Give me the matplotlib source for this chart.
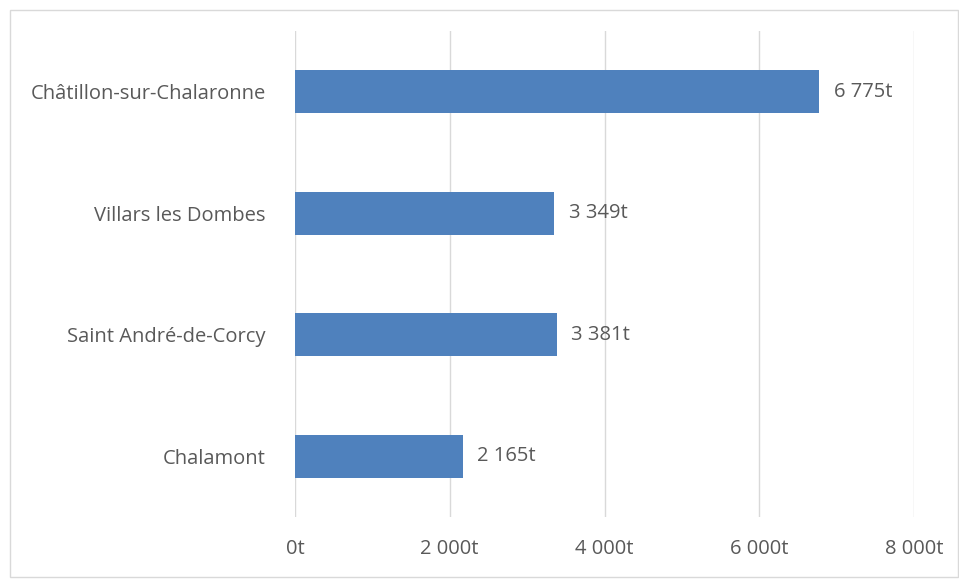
import matplotlib
matplotlib.use("Agg")
import matplotlib.pyplot as plt
from matplotlib.patches import Rectangle

categories = ["Chalamont", "Saint André-de-Corcy", "Villars les Dombes", "Châtillon-sur-Chalaronne"]
values = [2165, 3381, 3349, 6775]
xticks = [0, 2000, 4000, 6000, 8000]
xtick_labels = ["0t", "2 000t", "4 000t", "6 000t", "8 000t"]
value_labels = ["2 165t", "3 381t", "3 349t", "6 775t"]

plt.rcParams['font.family'] = ['Open Sans', 'DejaVu Sans']
txt = "#595959"
fs = 14.5

fig = plt.figure(figsize=(9.59, 5.79), dpi=100)
fig.patches.append(Rectangle((10/959, 1-577/579), 948/959, 567/579, transform=fig.transFigure,
                             fill=False, edgecolor="#d9d9d9", linewidth=1))
ax = fig.add_axes([295/959, 1-517/579, 619/959, 486/579])
ypos = list(range(len(categories)))
ax.barh(ypos, values, height=0.354, color="#4F81BD", zorder=3)
for y, v, lab in zip(ypos, values, value_labels):
    ax.text(v + 190, y, lab, va="center", ha="left", fontsize=fs, color=txt, zorder=4)
ax.set_xlim(0, 8000)
ax.set_ylim(-0.5, 3.5)
ax.set_xticks(xticks)
ax.set_xticklabels(xtick_labels, fontsize=fs, color=txt)
ax.set_yticks(ypos)
ax.set_yticklabels(categories, fontsize=fs, color=txt)
ax.tick_params(axis="both", length=0)
ax.tick_params(axis="x", pad=16)
ax.tick_params(axis="y", pad=21)
ax.grid(axis="x", color="#d9d9d9", linewidth=1, zorder=0)
for s in ["top", "right", "bottom", "left"]:
    ax.spines[s].set_visible(False)
fig.savefig("out.png", dpi=100)
